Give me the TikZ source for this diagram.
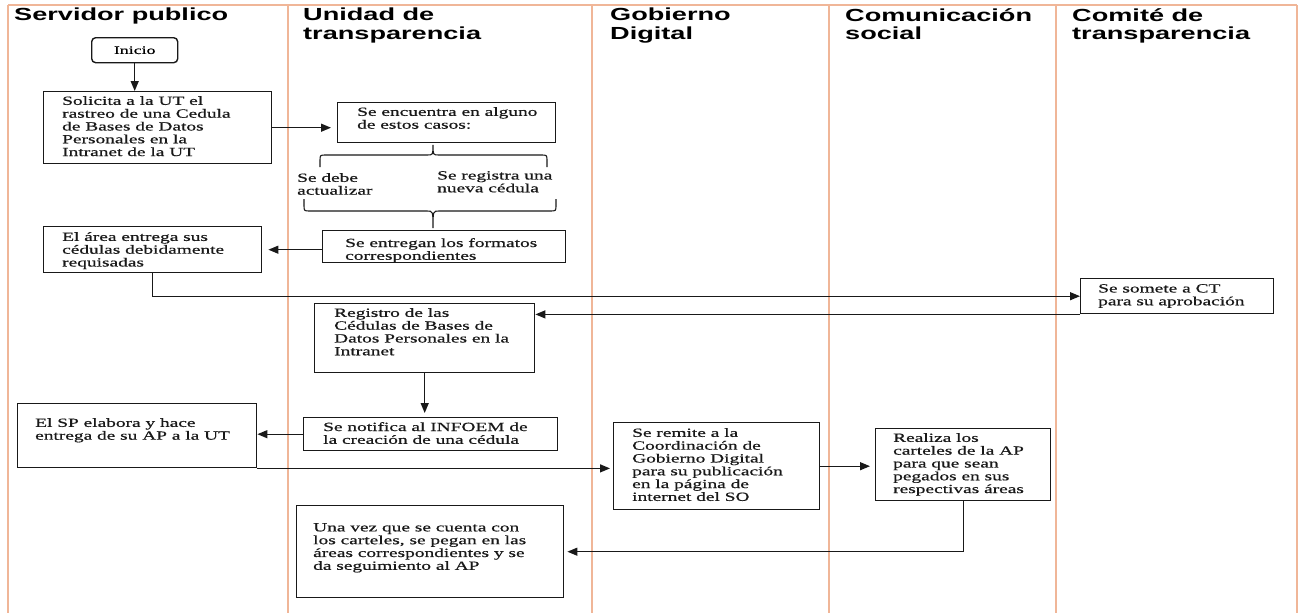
\documentclass[tikz,border=0pt]{standalone}
\usepackage{fontspec}
\setmainfont[FakeStretch=1.55,FakeBold=0.6]{Liberation Serif}
\newfontfamily\hdrfont[FakeStretch=1.55]{Liberation Sans}
\usetikzlibrary{arrows.meta}
\definecolor{lane}{RGB}{240,182,152}
\definecolor{ink}{RGB}{25,25,25}
\tikzset{
  lanel/.style={draw=lane, line width=2pt},
  boxst/.style={draw=ink, line width=1.4pt, rectangle, inner sep=0pt, anchor=north west},
  txt/.style={anchor=north west, inner sep=0pt, align=left, font=\fontsize{12.5}{12.8}\selectfont, text=ink},
  hdr/.style={anchor=north west, inner sep=0pt, align=left, font=\hdrfont\bfseries\fontsize{17.5}{18.5}\selectfont},
  flow/.style={draw=ink, line width=1.3pt, -{Triangle[length=10pt,width=8pt]}},
  link/.style={draw=ink, line width=1.3pt},
  bracest/.style={draw=ink, line width=1.1pt},
}
\newcommand{\mkbox}[5]{\node[boxst, minimum width={(#4-#2)*1pt}, minimum height={(#5-#3)*1pt}] (#1) at (#2,#3) {};}
\begin{document}
\begin{tikzpicture}[x=1pt,y=-1pt]
\useasboundingbox (0,0) rectangle (1299,613);
\fill[white] (0,0) rectangle (1299,613);
% lanes
\draw[lanel] (8,5) -- (1297,5);
\foreach \lx in {8,288,592,829,1056,1297} \draw[lanel] (\lx,5) -- (\lx,613);
% headers
\node[hdr] (h1) at (14,8) {Servidor publico};
\node[hdr] (h2) at (303,8) {Unidad de\\transparencia};
\node[hdr] (h3) at (610,8) {Gobierno\\Digital};
\node[hdr] (h4) at (845,8) {Comunicación\\social};
\node[hdr] (h5) at (1072,8) {Comité de\\transparencia};
% boxes
\node[boxst, rounded corners=4pt, minimum width=86pt, minimum height=25pt, font=\fontsize{11.5}{12}\selectfont] (inicio) at (91,37) {Inicio};
\mkbox{solicita}{43}{91}{271}{163}
\node[txt] (t1) at (62,96) {Solicita a la UT el\\rastreo de una Cedula\\de Bases de Datos\\Personales en la\\Intranet de la UT};
\mkbox{encuentra}{337}{102}{555}{142}
\node[txt] (t2) at (357,107) {Se encuentra en alguno\\de estos casos:};
\node[txt] (t3) at (297,173) {Se debe\\actualizar};
\node[txt] (t4) at (437,171) {Se registra una\\nueva cédula};
\node[txt] (t5) at (345,238) {Se entregan los formatos\\correspondientes};
\mkbox{entregan}{322}{230}{565}{262}
\mkbox{elarea}{43}{226}{261}{272}
\node[txt] (t6) at (62,232) {El área entrega sus\\cédulas debidamente\\requisadas};
\mkbox{somete}{1080}{278}{1273}{313}
\node[txt] (t7) at (1098,284) {Se somete a CT\\para su aprobación};
\mkbox{registro}{314}{303}{534}{372}
\node[txt] (t8) at (334,308) {Registro de las\\Cédulas de Bases de\\Datos Personales en la\\Intranet};
\mkbox{notifica}{303}{417}{557}{450}
\node[txt] (t9) at (323,422) {Se notifica al INFOEM de\\la creación de una cédula};
\mkbox{elsp}{17}{403}{256}{467}
\node[txt] (t10) at (35,418) {El SP elabora y hace\\entrega de su AP a la UT};
\mkbox{remite}{613}{422}{819}{509}
\node[txt] (t11) at (632,428) {Se remite a la\\Coordinación de\\Gobierno Digital\\para su publicación\\en la página de\\internet del SO};
\mkbox{realiza}{875}{428}{1050}{500}
\node[txt] (t12) at (893,433) {Realiza los\\carteles de la AP\\para que sean\\pegados en sus\\respectivas áreas};
\mkbox{unavez}{296}{505}{563}{597}
\node[txt] (t13) at (313,523) {Una vez que se cuenta con\\los carteles, se pegan en las\\áreas correspondientes y se\\da seguimiento al AP};
% braces
\draw[bracest] (320,167) -- (320,161) .. controls (320,155) .. (326,155) -- (427,155)
  .. controls (433,155) .. (433,145) .. controls (433,155) .. (439,155) -- (541,155)
  .. controls (547,155) .. (547,161) -- (547,167);
\draw[bracest] (304,199) -- (304,205) .. controls (304,211) .. (310,211) -- (427,211)
  .. controls (433,211) .. (433,228) .. controls (433,211) .. (439,211) -- (550,211)
  .. controls (556,211) .. (556,205) -- (556,199);
% connectors
\draw[flow] (inicio.south) -- (inicio.south |- solicita.north);
\draw[flow, shorten >=6pt] (solicita.east) -- (solicita.east -| encuentra.west);
\draw[flow, shorten >=6pt] (entregan.west |- elarea.east) -- (elarea.east);
\draw[flow] (elarea.south) |- (somete.west);
\draw[flow] (somete.south west) -- (somete.south west -| registro.east);
\draw[flow, shorten >=4pt] (registro.south) -- (registro.south |- notifica.north);
\draw[flow] (notifica.west) -- (notifica.west -| elsp.east);
\draw[flow, shorten >=3pt] (elsp.south east) -- (elsp.south east -| remite.west);
\draw[flow, shorten >=5pt] (remite.east) -- (remite.east -| realiza.west);
\draw[flow, shorten >=3pt] (realiza.south) |- (unavez.east);
\end{tikzpicture}
\end{document}
